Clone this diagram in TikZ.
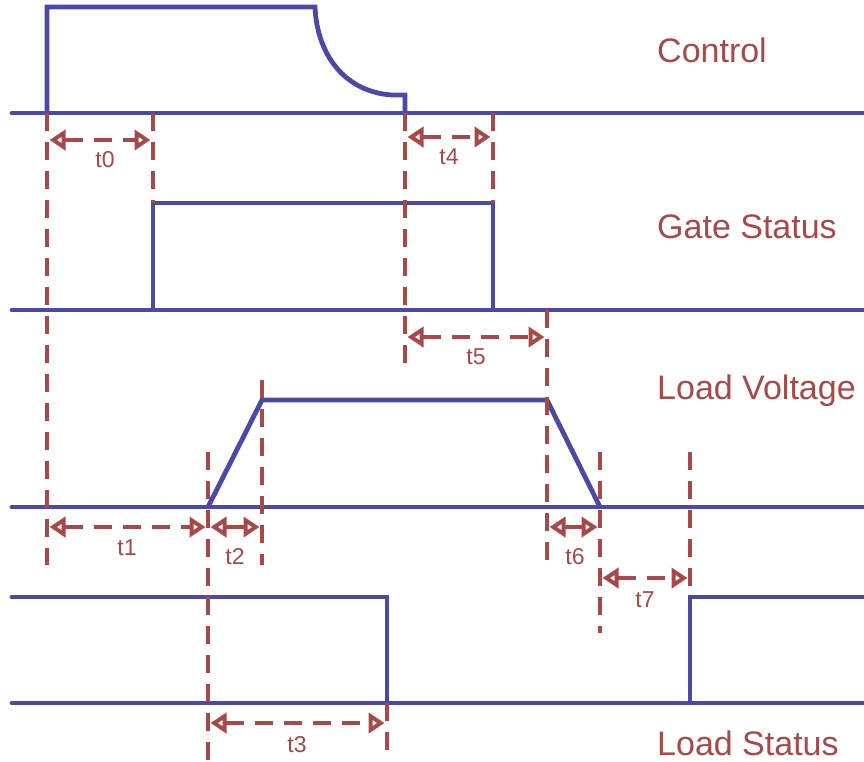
\documentclass[tikz,border=0pt]{standalone}
\usepackage{fontspec}
\setmainfont{Liberation Sans}
\usetikzlibrary{arrows.meta}
\definecolor{sigblue}{RGB}{74,74,166}
\definecolor{dimred}{RGB}{168,72,72}
\begin{document}
\begin{tikzpicture}[x=1pt,y=-1pt,
  sig/.style={draw=sigblue,line width=4.8pt,line join=miter},
  guide/.style={draw=dimred,line width=4.8pt,dash pattern=on 18pt off 11pt},
  opentip/.tip={Triangle[open,length=16pt,width=20pt,line width=4pt]},
  dim/.style={draw=dimred,line width=4.5pt,dash pattern=on 18pt off 11pt,opentip-opentip},
  lab/.style={text=dimred,font=\fontsize{34}{40}\selectfont,anchor=base west,inner sep=0pt},
  tlab/.style={text=dimred,font=\fontsize{23}{27}\selectfont,inner sep=0pt}]
\useasboundingbox (0,0) rectangle (864,761);
% baselines
\draw[sig,line cap=round] (12,113) -- (868,113);
\draw[sig,line cap=round] (12,310) -- (868,310);
\draw[sig,line cap=round] (12,507) -- (868,507);
\draw[sig,line cap=round] (12,703) -- (868,703);
% control
\draw[sig] (47,113) -- (47,7) -- (315,7) .. controls (317,55) and (345,92) .. (392,95) -- (405,95) -- (405,113);
% gate
\draw[sig] (153,310) -- (153,203) -- (493,203) -- (493,310);
% load voltage
\draw[sig] (208,507) -- (262,400) -- (547,400) -- (600,507);
% load status
\draw[sig,line cap=round] (12,597) -- (387,597) -- (387,703);
\draw[sig] (690,703) -- (690,597) -- (868,597);
% guides
\draw[guide] (47,113) -- (47,565);
\draw[guide] (153,113) -- (153,203);
\draw[guide] (405,113) -- (405,365);
\draw[guide] (493,113) -- (493,203);
\draw[guide] (547,310) -- (547,565);
\draw[guide] (208,452) -- (208,760);
\draw[guide] (262,380) -- (262,565);
\draw[guide] (600,452) -- (600,633);
\draw[guide] (690,452) -- (690,597);
\draw[guide] (387,703) -- (387,758);
% dimensions
\draw[dim] (49.5,140) -- (150.5,140);
\draw[dim] (407.5,137) -- (490.5,137);
\draw[dim] (407.5,337) -- (544.5,337);
\draw[dim] (49.5,527) -- (205.5,527);
\draw[dim] (210.5,527) -- (259.5,527);
\draw[dim] (549.5,527) -- (597.5,527);
\draw[dim] (602.5,578) -- (687.5,578);
\draw[dim] (210.5,723) -- (384.5,723);
\node[tlab] (t0) at (105,160) {t0};
\node[tlab] (t4) at (449,157) {t4};
\node[tlab] (t5) at (476,357) {t5};
\node[tlab] (t1) at (127,548) {t1};
\node[tlab] (t2) at (235,557) {t2};
\node[tlab] (t6) at (575,557) {t6};
\node[tlab] (t7) at (645,600) {t7};
\node[tlab] (t3) at (297,745) {t3};
% signal names
\node[lab] (ctl) at (657,62) {Control};
\node[lab] (gs) at (657,238) {Gate Status};
\node[lab] (lv) at (657,399) {Load Voltage};
\node[lab] (ls) at (657,755) {Load Status};
\end{tikzpicture}
\end{document}
